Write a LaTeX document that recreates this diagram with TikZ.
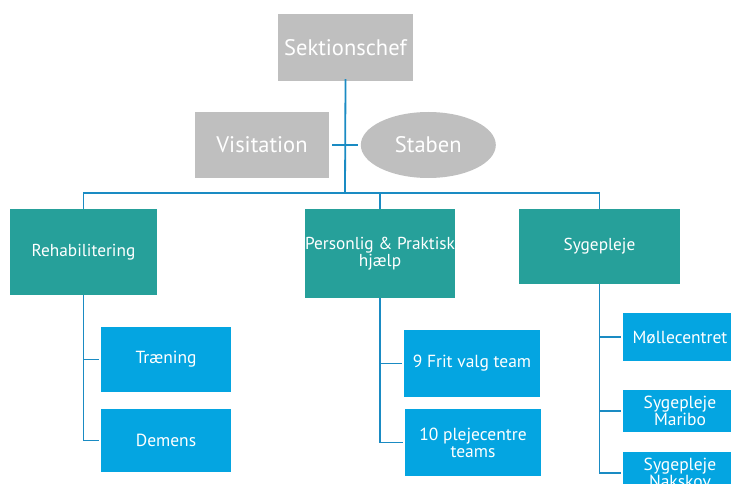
\documentclass[tikz,border=0pt]{standalone}
\usepackage{fontspec}
\setmainfont{PT Sans}
\usetikzlibrary{shapes.geometric}
\definecolor{grayc}{HTML}{BFBFBF}
\definecolor{tealc}{HTML}{26A09A}
\definecolor{bluec}{HTML}{04A5E1}
\definecolor{linec}{HTML}{1A8BC3}
\tikzset{
  graybox/.style={rectangle, fill=grayc, text=white, inner sep=0pt, font=\fontsize{22.5}{25}\selectfont},
  tealbox/.style={rectangle, fill=tealc, text=white, inner sep=0pt, align=center, font=\fontsize{17.3}{17}\selectfont},
  bluebox/.style={rectangle, fill=bluec, text=white, inner sep=0pt, align=center, font=\fontsize{17.5}{17}\selectfont},
  conn/.style={draw=linec, line width=1.8pt},
}
\begin{document}
\begin{tikzpicture}[x=1pt,y=-1pt]
\useasboundingbox (0,0) rectangle (731,484);
\node[graybox, minimum width=135pt, minimum height=67pt] (sek) at (345.5,47.5) {Sektionschef};
\node[graybox, minimum width=134pt, minimum height=66pt] (vis) at (262,145) {Visitation};
\node[graybox, ellipse, minimum width=135pt, minimum height=66pt] (stab) at (428.3,145) {Staben};
\node[tealbox, minimum width=147pt, minimum height=86pt] (reh) at (83.5,252) {Rehabilitering};
\node[tealbox, minimum width=150pt, minimum height=89pt] (pp) at (380,253.5) {Personlig \& Praktisk\\hjælp};
\node[tealbox, minimum width=161pt, minimum height=75pt] (syg) at (599.5,246.5) {Sygepleje};
\node[bluebox, minimum width=130pt, minimum height=65pt] (tr) at (166,359.5) {Træning};
\node[bluebox, minimum width=130pt, minimum height=63pt] (dem) at (166,440.5) {Demens};
\node[bluebox, minimum width=136pt, minimum height=67pt] (fv) at (472,363.5) {9 Frit valg team};
\node[bluebox, minimum width=136pt, minimum height=67pt] (pl) at (473,442.5) {10 plejecentre\\teams};
\node[bluebox, minimum width=114pt, minimum height=48pt] (mol) at (680,337) {Møllecentret};
\node[bluebox, minimum width=114pt, minimum height=42pt] (mar) at (680,411) {Sygepleje\\Maribo};
\node[bluebox, minimum width=114pt, minimum height=42pt] (nak) at (680,473) {Sygepleje\\Nakskov};
\coordinate (bus) at (345,193);
\draw[conn] ([yshift=2pt]sek.south) -- (bus);
\draw[conn] ([xshift=3pt]vis.east) -- ([xshift=-3pt]stab.west);
\draw[conn] (bus) -| (reh.north);
\draw[conn] (bus) -| (pp.north);
\draw[conn] (bus) -| (syg.north);
\draw[conn] (reh.south) |- ([xshift=-2pt]tr.west);
\draw[conn] (reh.south) |- ([xshift=-2pt]dem.west);
\draw[conn] (pp.south) |- ([xshift=-2pt]fv.west);
\draw[conn] (pp.south) |- ([xshift=-2pt]pl.west);
\draw[conn] (syg.south) |- ([xshift=-2pt]mol.west);
\draw[conn] (syg.south) |- ([xshift=-2pt]mar.west);
\draw[conn] (syg.south) |- ([xshift=-2pt]nak.west);
\end{tikzpicture}
\end{document}
